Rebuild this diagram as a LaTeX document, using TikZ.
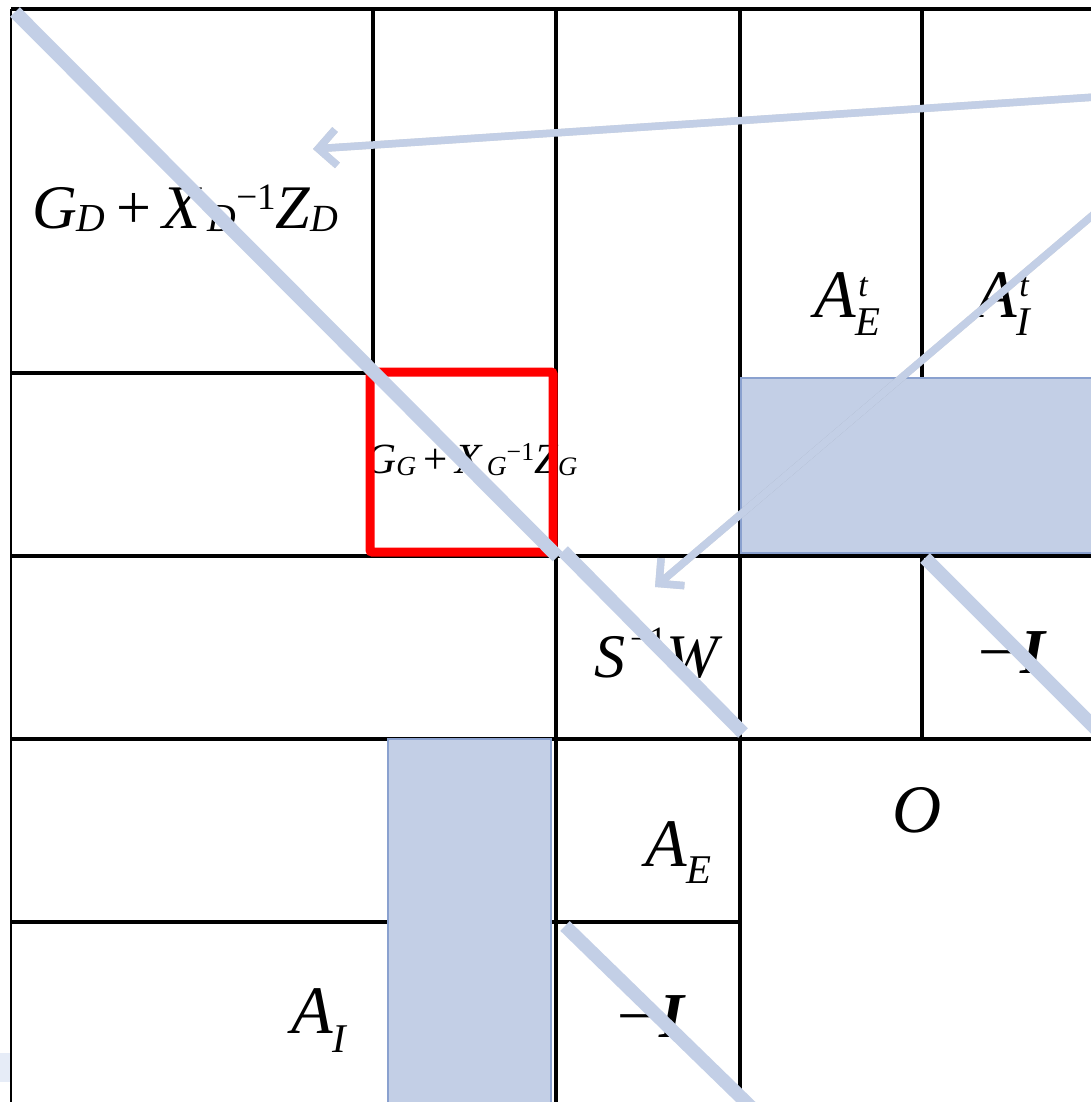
\documentclass[tikz,border=0pt]{standalone}
\usepackage{graphicx}
\usepackage{fontspec}
\setmainfont{Liberation Serif}
\usetikzlibrary{arrows.meta}
\definecolor{pale}{HTML}{C3CFE6}
\definecolor{paleedge}{HTML}{8AA1CF}
\definecolor{sliver}{HTML}{E6ECF7}
\newcommand\subs[3]{\raisebox{#1}{\scalebox{#2}{\itshape #3}}}
\newcommand\gdexpr[1]{\itshape G\subs{-0.05em}{0.64}{#1}\hspace{0.17em}{\upshape+}\hspace{0.18em}X\hspace{0.12em}\subs{-0.05em}{0.64}{#1}\subs{0.3em}{0.6}{\upshape −1}Z\subs{-0.05em}{0.62}{#1}}
\begin{document}
\begin{tikzpicture}[x=1pt,y=-1pt,
  gridline/.style={line width=3.1pt, black},
  lbl/.style={inner sep=0pt, font=\fontsize{62}{72}\selectfont},
  lblA/.style={inner sep=0pt, font=\fontsize{68}{78}\selectfont\itshape},
  lblI/.style={inner sep=0pt, font=\fontsize{64}{74}\selectfont},
  lblsmall/.style={inner sep=0pt, font=\fontsize{43}{50}\selectfont},
  diagline/.style={pale, line width=13.5pt},
  shadedbox/.style={fill=pale, draw=paleedge, line width=1.8pt},
  ptr/.style={pale, line width=7.5pt, -{Straight Barb[length=18pt,width=36pt]}},
  ptrshadow/.style={black, opacity=0.16, line width=7.5pt, -{Straight Barb[length=18pt,width=36pt]}}
]
\useasboundingbox (0,0) rectangle (1091,1102);
\clip (0,0) rectangle (1091,1102);

% labels
\node[lbl, anchor=base west] (gd) at (32,228) {\gdexpr{D}};
\node[lblsmall, anchor=base west] (gg) at (365,473) {\gdexpr{G}};
\node[lbl, anchor=base west] (sw) at (594,677) {\itshape S\hspace{0.08em}\subs{0.42em}{0.55}{\upshape −1}W};
\node[lblI, anchor=base west] (mi1) at (978,673) {−\hspace{0.1em}\textbf{\textit{I}}};
\node[lblI, anchor=base west] (mi2) at (617,1037) {−\hspace{0.1em}\textbf{\textit{I}}};
\node[lblA, anchor=base west] (ae) at (645,866) {A\subs{-0.26em}{0.6}{E}};
\node[lblA, anchor=base west] (ai) at (291,1033) {A\subs{-0.28em}{0.6}{I}};
\node[lblA, anchor=base west] (aet) at (814,317) {A\rlap{\hspace{0.04em}\subs{0.3em}{0.5}{t}}\subs{-0.27em}{0.6}{E}};
\node[lblA, anchor=base west] (ait) at (975,317) {A\rlap{\hspace{0.04em}\subs{0.3em}{0.5}{t}}\subs{-0.27em}{0.6}{I}};
\node[lblA] (o) at (917,810) {O};

% grid
\draw[line width=3.6pt] (11,9) -- (1095,9);
\draw[line width=1.6pt] (11,9) -- (11,1105);
\draw[gridline] (373,9) -- (373,373);
\draw[gridline] (11,373) -- (373,373);
\draw[gridline] (556,9) -- (556,1105);
\draw[gridline] (740,9) -- (740,1105);
\draw[gridline] (922,9) -- (922,740);
\draw[gridline] (11,556) -- (1095,556);
\draw[gridline] (11,739) -- (1095,739);
\draw[gridline] (11,922) -- (740,922);

% shaded blocks
\node[shadedbox, anchor=north west, minimum width=360pt, minimum height=175pt, inner sep=0pt] (bt) at (740,377) {};
\node[shadedbox, anchor=north west, minimum width=163pt, minimum height=370pt, inner sep=0pt] (bl) at (387,738) {};
\fill[sliver] (0,1053) rectangle (10,1082);

% red box
\node[draw=red, line width=9pt, rounded corners=2pt, minimum width=183pt, minimum height=180pt, inner sep=0pt] (redbox) at (461.5,462) {};

% diagonals
\coordinate (d1s) at (15,12);
\coordinate (d2s) at (563,551);
\coordinate (d2e) at (743,733);
\coordinate (d3s) at (925,558);
\coordinate (d3e) at (1105,738);
\coordinate (d4s) at (565,926);
\coordinate (d4e) at (752,1108);
\draw[diagline] (d1s) -- (redbox.south east);
\draw[diagline] (d2s) -- (d2e);
\draw[diagline] (d3s) -- (d3e);
\draw[diagline] (d4s) -- (d4e);

% pointers
\coordinate (pa) at (1096,97);
\coordinate (pat) at (313,149);
\coordinate (pb) at (1100,209);
\coordinate (pbt) at (655,587);
\begin{scope}[shift={(2.5,3)}]
\draw[ptrshadow] (pa) -- (pat);
\draw[ptrshadow] (pb) -- (pbt);
\end{scope}
\draw[ptr] (pa) -- (pat);
\draw[ptr] (pb) -- (pbt);
\end{tikzpicture}
\end{document}
